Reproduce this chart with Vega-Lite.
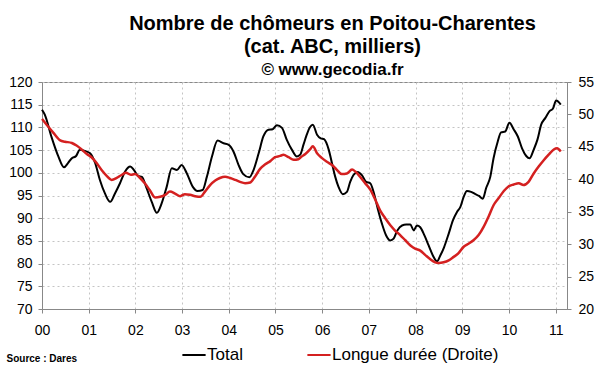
{
  "$schema": "https://vega.github.io/schema/vega-lite/v6.json",
  "width": 525,
  "height": 227,
  "autosize": {"type": "none"},
  "padding": {"left": 42, "top": 82, "right": 33, "bottom": 63},
  "background": "white",
  "config": {
    "font": "Liberation Sans",
    "view": {"stroke": "#888888", "strokeWidth": 1},
    "axis": {
      "labelFont": "Liberation Sans",
      "labelFontSize": 14,
      "labelColor": "#000000",
      "domainColor": "#888888",
      "tickColor": "#888888",
      "tickSize": 4,
      "gridColor": "#c4c4c4",
      "gridDash": [2, 3],
      "gridWidth": 1
    }
  },
  "title": {
    "text": ["Nombre de chômeurs en Poitou-Charentes", "(cat. ABC, milliers)"],
    "subtitle": "© www.gecodia.fr",
    "anchor": "middle",
    "frame": "group",
    "dx": 28,
    "font": "Liberation Sans",
    "fontSize": 20,
    "fontWeight": "bold",
    "color": "#000000",
    "lineHeight": 23.4,
    "subtitleFont": "Liberation Sans",
    "subtitleFontSize": 17,
    "subtitleFontWeight": "bold",
    "subtitleColor": "#000000",
    "subtitlePadding": 5,
    "offset": -3
  },
  "data": {
    "values": [
      {"annee": 2000.00, "serie": "Total", "valeur": 113.9},
      {"annee": 2000.06, "serie": "Total", "valeur": 112.8},
      {"annee": 2000.20, "serie": "Total", "valeur": 108.0},
      {"annee": 2000.35, "serie": "Total", "valeur": 103.6},
      {"annee": 2000.47, "serie": "Total", "valeur": 101.2},
      {"annee": 2000.56, "serie": "Total", "valeur": 102.2},
      {"annee": 2000.64, "serie": "Total", "valeur": 103.2},
      {"annee": 2000.73, "serie": "Total", "valeur": 103.7},
      {"annee": 2000.81, "serie": "Total", "valeur": 105.1},
      {"annee": 2000.92, "serie": "Total", "valeur": 104.8},
      {"annee": 2001.03, "serie": "Total", "valeur": 104.3},
      {"annee": 2001.14, "serie": "Total", "valeur": 102.1},
      {"annee": 2001.24, "serie": "Total", "valeur": 98.4},
      {"annee": 2001.35, "serie": "Total", "valeur": 95.4},
      {"annee": 2001.46, "serie": "Total", "valeur": 93.6},
      {"annee": 2001.56, "serie": "Total", "valeur": 95.4},
      {"annee": 2001.67, "serie": "Total", "valeur": 97.7},
      {"annee": 2001.78, "serie": "Total", "valeur": 100.3},
      {"annee": 2001.89, "serie": "Total", "valeur": 101.4},
      {"annee": 2001.97, "serie": "Total", "valeur": 100.6},
      {"annee": 2002.06, "serie": "Total", "valeur": 99.3},
      {"annee": 2002.14, "serie": "Total", "valeur": 99.1},
      {"annee": 2002.24, "serie": "Total", "valeur": 96.6},
      {"annee": 2002.35, "serie": "Total", "valeur": 93.6},
      {"annee": 2002.46, "serie": "Total", "valeur": 91.2},
      {"annee": 2002.56, "serie": "Total", "valeur": 93.2},
      {"annee": 2002.67, "serie": "Total", "valeur": 96.9},
      {"annee": 2002.78, "serie": "Total", "valeur": 101.0},
      {"annee": 2002.89, "serie": "Total", "valeur": 100.6},
      {"annee": 2002.99, "serie": "Total", "valeur": 101.7},
      {"annee": 2003.10, "serie": "Total", "valeur": 99.9},
      {"annee": 2003.23, "serie": "Total", "valeur": 96.9},
      {"annee": 2003.33, "serie": "Total", "valeur": 96.0},
      {"annee": 2003.44, "serie": "Total", "valeur": 96.2},
      {"annee": 2003.53, "serie": "Total", "valeur": 99.1},
      {"annee": 2003.64, "serie": "Total", "valeur": 103.6},
      {"annee": 2003.76, "serie": "Total", "valeur": 107.1},
      {"annee": 2003.89, "serie": "Total", "valeur": 106.5},
      {"annee": 2003.99, "serie": "Total", "valeur": 106.2},
      {"annee": 2004.10, "serie": "Total", "valeur": 104.7},
      {"annee": 2004.21, "serie": "Total", "valeur": 101.7},
      {"annee": 2004.31, "serie": "Total", "valeur": 99.7},
      {"annee": 2004.44, "serie": "Total", "valeur": 99.0},
      {"annee": 2004.53, "serie": "Total", "valeur": 100.6},
      {"annee": 2004.64, "serie": "Total", "valeur": 104.3},
      {"annee": 2004.74, "serie": "Total", "valeur": 108.0},
      {"annee": 2004.85, "serie": "Total", "valeur": 109.5},
      {"annee": 2004.94, "serie": "Total", "valeur": 109.6},
      {"annee": 2005.03, "serie": "Total", "valeur": 110.5},
      {"annee": 2005.14, "serie": "Total", "valeur": 109.9},
      {"annee": 2005.24, "serie": "Total", "valeur": 107.3},
      {"annee": 2005.35, "serie": "Total", "valeur": 105.1},
      {"annee": 2005.46, "serie": "Total", "valeur": 103.6},
      {"annee": 2005.53, "serie": "Total", "valeur": 104.0},
      {"annee": 2005.60, "serie": "Total", "valeur": 106.2},
      {"annee": 2005.67, "serie": "Total", "valeur": 108.4},
      {"annee": 2005.74, "serie": "Total", "valeur": 110.1},
      {"annee": 2005.80, "serie": "Total", "valeur": 110.6},
      {"annee": 2005.89, "serie": "Total", "valeur": 108.4},
      {"annee": 2005.97, "serie": "Total", "valeur": 107.6},
      {"annee": 2006.04, "serie": "Total", "valeur": 107.4},
      {"annee": 2006.14, "serie": "Total", "valeur": 105.1},
      {"annee": 2006.21, "serie": "Total", "valeur": 102.1},
      {"annee": 2006.28, "serie": "Total", "valeur": 99.1},
      {"annee": 2006.35, "serie": "Total", "valeur": 96.9},
      {"annee": 2006.44, "serie": "Total", "valeur": 95.3},
      {"annee": 2006.53, "serie": "Total", "valeur": 95.8},
      {"annee": 2006.60, "serie": "Total", "valeur": 98.0},
      {"annee": 2006.67, "serie": "Total", "valeur": 99.5},
      {"annee": 2006.76, "serie": "Total", "valeur": 100.2},
      {"annee": 2006.85, "serie": "Total", "valeur": 99.5},
      {"annee": 2006.94, "serie": "Total", "valeur": 98.0},
      {"annee": 2007.03, "serie": "Total", "valeur": 97.7},
      {"annee": 2007.10, "serie": "Total", "valeur": 95.8},
      {"annee": 2007.19, "serie": "Total", "valeur": 92.1},
      {"annee": 2007.28, "serie": "Total", "valeur": 88.8},
      {"annee": 2007.37, "serie": "Total", "valeur": 86.2},
      {"annee": 2007.46, "serie": "Total", "valeur": 85.1},
      {"annee": 2007.53, "serie": "Total", "valeur": 85.5},
      {"annee": 2007.61, "serie": "Total", "valeur": 87.3},
      {"annee": 2007.71, "serie": "Total", "valeur": 88.4},
      {"annee": 2007.80, "serie": "Total", "valeur": 88.6},
      {"annee": 2007.89, "serie": "Total", "valeur": 88.6},
      {"annee": 2007.96, "serie": "Total", "valeur": 87.3},
      {"annee": 2008.03, "serie": "Total", "valeur": 88.4},
      {"annee": 2008.10, "serie": "Total", "valeur": 88.0},
      {"annee": 2008.19, "serie": "Total", "valeur": 86.2},
      {"annee": 2008.28, "serie": "Total", "valeur": 84.0},
      {"annee": 2008.37, "serie": "Total", "valeur": 81.8},
      {"annee": 2008.46, "serie": "Total", "valeur": 80.5},
      {"annee": 2008.53, "serie": "Total", "valeur": 81.8},
      {"annee": 2008.61, "serie": "Total", "valeur": 83.6},
      {"annee": 2008.71, "serie": "Total", "valeur": 86.6},
      {"annee": 2008.80, "serie": "Total", "valeur": 89.5},
      {"annee": 2008.89, "serie": "Total", "valeur": 91.4},
      {"annee": 2008.96, "serie": "Total", "valeur": 92.5},
      {"annee": 2009.03, "serie": "Total", "valeur": 94.7},
      {"annee": 2009.10, "serie": "Total", "valeur": 96.0},
      {"annee": 2009.19, "serie": "Total", "valeur": 95.8},
      {"annee": 2009.28, "serie": "Total", "valeur": 95.3},
      {"annee": 2009.36, "serie": "Total", "valeur": 94.9},
      {"annee": 2009.44, "serie": "Total", "valeur": 94.3},
      {"annee": 2009.51, "serie": "Total", "valeur": 96.6},
      {"annee": 2009.60, "serie": "Total", "valeur": 99.1},
      {"annee": 2009.67, "serie": "Total", "valeur": 103.2},
      {"annee": 2009.76, "serie": "Total", "valeur": 106.9},
      {"annee": 2009.83, "serie": "Total", "valeur": 108.9},
      {"annee": 2009.92, "serie": "Total", "valeur": 109.1},
      {"annee": 2010.01, "serie": "Total", "valeur": 111.0},
      {"annee": 2010.10, "serie": "Total", "valeur": 109.6},
      {"annee": 2010.19, "serie": "Total", "valeur": 108.0},
      {"annee": 2010.28, "serie": "Total", "valeur": 105.4},
      {"annee": 2010.37, "serie": "Total", "valeur": 103.7},
      {"annee": 2010.44, "serie": "Total", "valeur": 103.2},
      {"annee": 2010.53, "serie": "Total", "valeur": 105.1},
      {"annee": 2010.61, "serie": "Total", "valeur": 107.3},
      {"annee": 2010.69, "serie": "Total", "valeur": 110.6},
      {"annee": 2010.78, "serie": "Total", "valeur": 112.1},
      {"annee": 2010.87, "serie": "Total", "valeur": 113.6},
      {"annee": 2010.94, "serie": "Total", "valeur": 114.1},
      {"annee": 2011.01, "serie": "Total", "valeur": 115.9},
      {"annee": 2011.11, "serie": "Total", "valeur": 115.0},

      {"annee": 2000.00, "serie": "Longue durée (Droite)", "valeur": 49.3},
      {"annee": 2000.10, "serie": "Longue durée (Droite)", "valeur": 48.4},
      {"annee": 2000.24, "serie": "Longue durée (Droite)", "valeur": 47.2},
      {"annee": 2000.39, "serie": "Longue durée (Droite)", "valeur": 46.0},
      {"annee": 2000.49, "serie": "Longue durée (Droite)", "valeur": 45.8},
      {"annee": 2000.64, "serie": "Longue durée (Droite)", "valeur": 45.6},
      {"annee": 2000.74, "serie": "Longue durée (Droite)", "valeur": 45.2},
      {"annee": 2000.85, "serie": "Longue durée (Droite)", "valeur": 44.6},
      {"annee": 2000.96, "serie": "Longue durée (Droite)", "valeur": 43.9},
      {"annee": 2001.06, "serie": "Longue durée (Droite)", "valeur": 43.4},
      {"annee": 2001.17, "serie": "Longue durée (Droite)", "valeur": 42.5},
      {"annee": 2001.28, "serie": "Longue durée (Droite)", "valeur": 41.4},
      {"annee": 2001.39, "serie": "Longue durée (Droite)", "valeur": 40.5},
      {"annee": 2001.49, "serie": "Longue durée (Droite)", "valeur": 39.9},
      {"annee": 2001.60, "serie": "Longue durée (Droite)", "valeur": 40.2},
      {"annee": 2001.71, "serie": "Longue durée (Droite)", "valeur": 40.7},
      {"annee": 2001.80, "serie": "Longue durée (Droite)", "valeur": 41.0},
      {"annee": 2001.90, "serie": "Longue durée (Droite)", "valeur": 40.7},
      {"annee": 2001.99, "serie": "Longue durée (Droite)", "valeur": 40.8},
      {"annee": 2002.10, "serie": "Longue durée (Droite)", "valeur": 40.2},
      {"annee": 2002.21, "serie": "Longue durée (Droite)", "valeur": 39.3},
      {"annee": 2002.31, "serie": "Longue durée (Droite)", "valeur": 38.3},
      {"annee": 2002.42, "serie": "Longue durée (Droite)", "valeur": 37.2},
      {"annee": 2002.53, "serie": "Longue durée (Droite)", "valeur": 37.3},
      {"annee": 2002.64, "serie": "Longue durée (Droite)", "valeur": 37.6},
      {"annee": 2002.74, "serie": "Longue durée (Droite)", "valeur": 38.1},
      {"annee": 2002.85, "serie": "Longue durée (Droite)", "valeur": 37.8},
      {"annee": 2002.96, "serie": "Longue durée (Droite)", "valeur": 37.4},
      {"annee": 2003.06, "serie": "Longue durée (Droite)", "valeur": 37.7},
      {"annee": 2003.17, "serie": "Longue durée (Droite)", "valeur": 37.6},
      {"annee": 2003.28, "serie": "Longue durée (Droite)", "valeur": 37.4},
      {"annee": 2003.39, "serie": "Longue durée (Droite)", "valeur": 37.3},
      {"annee": 2003.49, "serie": "Longue durée (Droite)", "valeur": 38.1},
      {"annee": 2003.60, "serie": "Longue durée (Droite)", "valeur": 39.1},
      {"annee": 2003.71, "serie": "Longue durée (Droite)", "valeur": 39.8},
      {"annee": 2003.81, "serie": "Longue durée (Droite)", "valeur": 40.2},
      {"annee": 2003.92, "serie": "Longue durée (Droite)", "valeur": 40.4},
      {"annee": 2004.03, "serie": "Longue durée (Droite)", "valeur": 40.2},
      {"annee": 2004.14, "serie": "Longue durée (Droite)", "valeur": 39.9},
      {"annee": 2004.24, "serie": "Longue durée (Droite)", "valeur": 39.6},
      {"annee": 2004.35, "serie": "Longue durée (Droite)", "valeur": 39.4},
      {"annee": 2004.46, "serie": "Longue durée (Droite)", "valeur": 39.5},
      {"annee": 2004.56, "serie": "Longue durée (Droite)", "valeur": 40.4},
      {"annee": 2004.67, "serie": "Longue durée (Droite)", "valeur": 41.6},
      {"annee": 2004.78, "serie": "Longue durée (Droite)", "valeur": 42.3},
      {"annee": 2004.89, "serie": "Longue durée (Droite)", "valeur": 42.8},
      {"annee": 2004.99, "serie": "Longue durée (Droite)", "valeur": 43.4},
      {"annee": 2005.10, "serie": "Longue durée (Droite)", "valeur": 43.6},
      {"annee": 2005.17, "serie": "Longue durée (Droite)", "valeur": 43.8},
      {"annee": 2005.28, "serie": "Longue durée (Droite)", "valeur": 43.4},
      {"annee": 2005.39, "serie": "Longue durée (Droite)", "valeur": 43.0},
      {"annee": 2005.49, "serie": "Longue durée (Droite)", "valeur": 43.1},
      {"annee": 2005.56, "serie": "Longue durée (Droite)", "valeur": 43.5},
      {"annee": 2005.64, "serie": "Longue durée (Droite)", "valeur": 43.9},
      {"annee": 2005.74, "serie": "Longue durée (Droite)", "valeur": 44.6},
      {"annee": 2005.80, "serie": "Longue durée (Droite)", "valeur": 45.1},
      {"annee": 2005.89, "serie": "Longue durée (Droite)", "valeur": 44.0},
      {"annee": 2005.99, "serie": "Longue durée (Droite)", "valeur": 43.3},
      {"annee": 2006.10, "serie": "Longue durée (Droite)", "valeur": 42.7},
      {"annee": 2006.21, "serie": "Longue durée (Droite)", "valeur": 42.2},
      {"annee": 2006.31, "serie": "Longue durée (Droite)", "valeur": 41.5},
      {"annee": 2006.42, "serie": "Longue durée (Droite)", "valeur": 40.8},
      {"annee": 2006.53, "serie": "Longue durée (Droite)", "valeur": 40.9},
      {"annee": 2006.64, "serie": "Longue durée (Droite)", "valeur": 41.5},
      {"annee": 2006.71, "serie": "Longue durée (Droite)", "valeur": 41.2},
      {"annee": 2006.81, "serie": "Longue durée (Droite)", "valeur": 40.4},
      {"annee": 2006.92, "serie": "Longue durée (Droite)", "valeur": 39.4},
      {"annee": 2007.03, "serie": "Longue durée (Droite)", "valeur": 38.4},
      {"annee": 2007.14, "serie": "Longue durée (Droite)", "valeur": 36.8},
      {"annee": 2007.24, "serie": "Longue durée (Droite)", "valeur": 35.2},
      {"annee": 2007.35, "serie": "Longue durée (Droite)", "valeur": 34.0},
      {"annee": 2007.46, "serie": "Longue durée (Droite)", "valeur": 32.9},
      {"annee": 2007.56, "serie": "Longue durée (Droite)", "valeur": 32.1},
      {"annee": 2007.67, "serie": "Longue durée (Droite)", "valeur": 31.4},
      {"annee": 2007.78, "serie": "Longue durée (Droite)", "valeur": 30.6},
      {"annee": 2007.89, "serie": "Longue durée (Droite)", "valeur": 29.8},
      {"annee": 2007.99, "serie": "Longue durée (Droite)", "valeur": 29.3},
      {"annee": 2008.10, "serie": "Longue durée (Droite)", "valeur": 29.0},
      {"annee": 2008.21, "serie": "Longue durée (Droite)", "valeur": 28.3},
      {"annee": 2008.31, "serie": "Longue durée (Droite)", "valeur": 27.7},
      {"annee": 2008.42, "serie": "Longue durée (Droite)", "valeur": 27.2},
      {"annee": 2008.49, "serie": "Longue durée (Droite)", "valeur": 27.1},
      {"annee": 2008.60, "serie": "Longue durée (Droite)", "valeur": 27.2},
      {"annee": 2008.71, "serie": "Longue durée (Droite)", "valeur": 27.5},
      {"annee": 2008.81, "serie": "Longue durée (Droite)", "valeur": 28.0},
      {"annee": 2008.92, "serie": "Longue durée (Droite)", "valeur": 28.6},
      {"annee": 2009.03, "serie": "Longue durée (Droite)", "valeur": 29.6},
      {"annee": 2009.14, "serie": "Longue durée (Droite)", "valeur": 30.1},
      {"annee": 2009.24, "serie": "Longue durée (Droite)", "valeur": 30.6},
      {"annee": 2009.35, "serie": "Longue durée (Droite)", "valeur": 31.4},
      {"annee": 2009.46, "serie": "Longue durée (Droite)", "valeur": 32.7},
      {"annee": 2009.56, "serie": "Longue durée (Droite)", "valeur": 34.2},
      {"annee": 2009.67, "serie": "Longue durée (Droite)", "valeur": 36.0},
      {"annee": 2009.78, "serie": "Longue durée (Droite)", "valeur": 37.1},
      {"annee": 2009.89, "serie": "Longue durée (Droite)", "valeur": 38.2},
      {"annee": 2009.99, "serie": "Longue durée (Droite)", "valeur": 38.9},
      {"annee": 2010.10, "serie": "Longue durée (Droite)", "valeur": 39.2},
      {"annee": 2010.21, "serie": "Longue durée (Droite)", "valeur": 39.4},
      {"annee": 2010.31, "serie": "Longue durée (Droite)", "valeur": 39.1},
      {"annee": 2010.42, "serie": "Longue durée (Droite)", "valeur": 39.6},
      {"annee": 2010.53, "serie": "Longue durée (Droite)", "valeur": 40.9},
      {"annee": 2010.64, "serie": "Longue durée (Droite)", "valeur": 42.0},
      {"annee": 2010.74, "serie": "Longue durée (Droite)", "valeur": 42.9},
      {"annee": 2010.85, "serie": "Longue durée (Droite)", "valeur": 43.8},
      {"annee": 2010.96, "serie": "Longue durée (Droite)", "valeur": 44.6},
      {"annee": 2011.03, "serie": "Longue durée (Droite)", "valeur": 44.8},
      {"annee": 2011.11, "serie": "Longue durée (Droite)", "valeur": 44.3}
    ]
  },
  "encoding": {
    "x": {
      "field": "annee",
      "type": "quantitative",
      "scale": {"domain": [2000, 2011.243], "nice": false, "zero": false},
      "axis": {
        "values": [2000, 2001, 2002, 2003, 2004, 2005, 2006, 2007, 2008, 2009, 2010, 2011],
        "labelExpr": "format(datum.value - 2000, '02d')",
        "grid": true,
        "labelPadding": 10,
        "labelFlush": false,
        "labelOverlap": false,
        "title": "Source : Dares",
        "titleFont": "Liberation Sans",
        "titleFontSize": 10,
        "titleFontWeight": "bold",
        "titleColor": "#000000",
        "titleAnchor": "start",
        "titleAlign": "left",
        "titleBaseline": "middle",
        "titleX": -36,
        "titleY": 49
      }
    },
    "color": {
      "field": "serie",
      "type": "nominal",
      "scale": {"domain": ["Total", "Longue durée (Droite)"], "range": ["#000000", "#d42020"]},
      "legend": {
        "title": null,
        "orient": "none",
        "legendX": 139,
        "legendY": 260,
        "direction": "horizontal",
        "symbolType": "stroke",
        "symbolSize": 540,
        "symbolStrokeWidth": 2,
        "labelFont": "Liberation Sans",
        "labelFontSize": 17,
        "labelColor": "#000000",
        "labelOffset": 0,
        "labelLimit": 300,
        "columnPadding": 60
      }
    }
  },
  "layer": [
    {
      "transform": [{"filter": "datum.serie === 'Total'"}],
      "mark": {"type": "line", "strokeWidth": 2, "interpolate": "monotone"},
      "encoding": {
        "y": {
          "field": "valeur",
          "type": "quantitative",
          "scale": {"domain": [70, 120], "nice": false, "zero": false},
          "axis": {
            "values": [70, 75, 80, 85, 90, 95, 100, 105, 110, 115, 120],
            "title": null,
            "grid": true,
            "labelPadding": 6,
            "labelFlush": false,
            "labelOverlap": false
          }
        }
      }
    },
    {
      "transform": [{"filter": "datum.serie !== 'Total'"}],
      "mark": {"type": "line", "strokeWidth": 2.5, "interpolate": "monotone"},
      "encoding": {
        "y": {
          "field": "valeur",
          "type": "quantitative",
          "scale": {"domain": [20, 55], "nice": false, "zero": false},
          "axis": {
            "orient": "right",
            "values": [20, 25, 30, 35, 40, 45, 50, 55],
            "title": null,
            "grid": false,
            "labelPadding": 7,
            "labelFlush": false,
            "labelOverlap": false
          }
        }
      }
    }
  ],
  "resolve": {"scale": {"y": "independent"}}
}
